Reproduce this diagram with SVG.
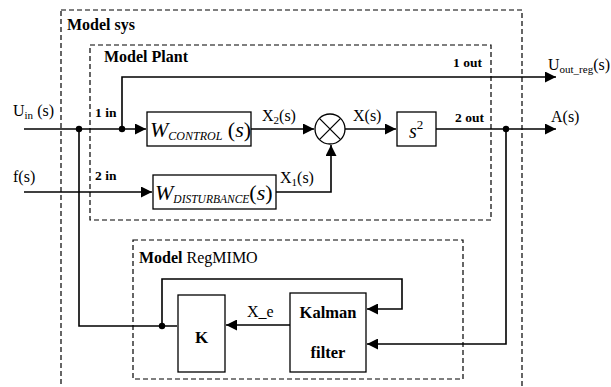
<svg xmlns="http://www.w3.org/2000/svg" width="611" height="387" viewBox="0 0 611 387">
<defs>
<style>
text{font-family:"Liberation Serif","Times New Roman",serif;fill:#000}
.b{font-weight:bold}
.dash{fill:none;stroke:#000;stroke-width:1.2;stroke-dasharray:5,3}
.blk{fill:#fff;stroke:#000;stroke-width:1.3}
.ln{fill:none;stroke:#000;stroke-width:1.6}
.lbl{font-size:16px}
.sub{font-size:11px}
.port{font-size:13.5px;font-weight:bold}
.title{font-size:16px}
</style>
<marker id="ar" viewBox="0 0 10 10" refX="10" refY="5" markerWidth="11" markerHeight="11" markerUnits="userSpaceOnUse" orient="auto">
<path d="M0,0 L10,5 L0,10 z" fill="#000"/>
</marker>
</defs>
<rect width="611" height="387" fill="#fff"/>

<g id="model-sys">
<rect class="dash" x="61" y="10" width="461" height="390"/>
<text class="b title" x="67" y="30">Model sys</text>
</g>
<g id="model-plant">
<rect class="dash" x="90" y="45" width="401" height="175"/>
<text class="b title" x="104" y="62">Model Plant</text>
</g>
<g id="model-regmimo">
<rect class="dash" x="133" y="240" width="330" height="139"/>
<text class="title" x="139" y="263"><tspan class="b">Model</tspan> RegMIMO</text>
</g>

<g id="connectors">
<path class="ln" d="M24,129 H146" marker-end="url(#ar)"/>
<path class="ln" d="M122,129 V77 H556" marker-end="url(#ar)"/>
<path class="ln" d="M251,129 H314" marker-end="url(#ar)"/>
<path class="ln" d="M24,192 H152" marker-end="url(#ar)"/>
<path class="ln" d="M276,192 H331 V145" marker-end="url(#ar)"/>
<path class="ln" d="M345,129 H396" marker-end="url(#ar)"/>
<path class="ln" d="M436,129 H556" marker-end="url(#ar)"/>
<path class="ln" d="M506,129 V344 H367" marker-end="url(#ar)"/>
<path class="ln" d="M79,129 V326 H177"/>
<path class="ln" d="M162,326 V279 H402 V309 H367" marker-end="url(#ar)"/>
<path class="ln" d="M290,325 H226" marker-end="url(#ar)"/>
<circle cx="79" cy="129" r="3.2"/>
<circle cx="122" cy="129" r="3.2"/>
<circle cx="506" cy="129" r="3.2"/>
<circle cx="162" cy="326" r="3.2"/>
</g>

<g id="labels">
<text class="lbl" x="13" y="116">U<tspan class="sub" dy="3">in</tspan><tspan dy="-3"> (s)</tspan></text>
<text class="lbl" x="13" y="182">f(s)</text>
<text class="port" x="95" y="117">1 in</text>
<text class="port" x="95" y="180">2 in</text>
<text class="port" x="453" y="67">1 out</text>
<text class="port" x="455" y="122">2 out</text>
<text class="lbl" x="548" y="70">U<tspan class="sub" dy="3">out_reg</tspan><tspan dy="-3">(s)</tspan></text>
<text class="lbl" x="551" y="122">A(s)</text>
<text class="lbl" x="262" y="121">X<tspan class="sub" dy="3">2</tspan><tspan dy="-3">(s)</tspan></text>
<text class="lbl" x="280" y="183">X<tspan class="sub" dy="3">1</tspan><tspan dy="-3">(s)</tspan></text>
<text class="lbl" x="353" y="121">X(s)</text>
<text class="lbl" x="247" y="317">X_e</text>
</g>

<g id="w-control">
<rect class="blk" x="147" y="112" width="104" height="34"/>
<text x="150" y="137" font-size="22" font-style="italic">W<tspan font-size="12" dy="3">CONTROL</tspan><tspan dy="-3" font-style="normal"> (</tspan>s<tspan font-style="normal">)</tspan></text>
</g>
<g id="w-disturbance">
<rect class="blk" x="153" y="175" width="123" height="34"/>
<text x="155" y="200" font-size="22" font-style="italic">W<tspan font-size="11.5" dy="3">DISTURBANCE</tspan><tspan dy="-3" font-style="normal">(</tspan>s<tspan font-style="normal">)</tspan></text>
</g>
<g id="sum">
<circle cx="330" cy="129" r="15" fill="#fff" stroke="#000" stroke-width="1.3"/>
<path d="M319.4,118.4 L340.6,139.6 M340.6,118.4 L319.4,139.6" stroke="#000" stroke-width="1.3"/>
</g>
<g id="s2">
<rect class="blk" x="397" y="112" width="39" height="34"/>
<text x="409" y="138" font-size="20" font-style="italic">s<tspan font-style="normal" font-size="13" dy="-9">2</tspan></text>
</g>
<g id="k">
<rect class="blk" x="178" y="295" width="47" height="77"/>
<text class="b" x="201.5" y="343" font-size="17" text-anchor="middle">K</text>
</g>
<g id="kalman">
<rect class="blk" x="290" y="293" width="76" height="79"/>
<text class="b" x="328" y="318" font-size="16.5" text-anchor="middle">Kalman</text>
<text class="b" x="328" y="358" font-size="16.5" text-anchor="middle">filter</text>
</g>
</svg>
